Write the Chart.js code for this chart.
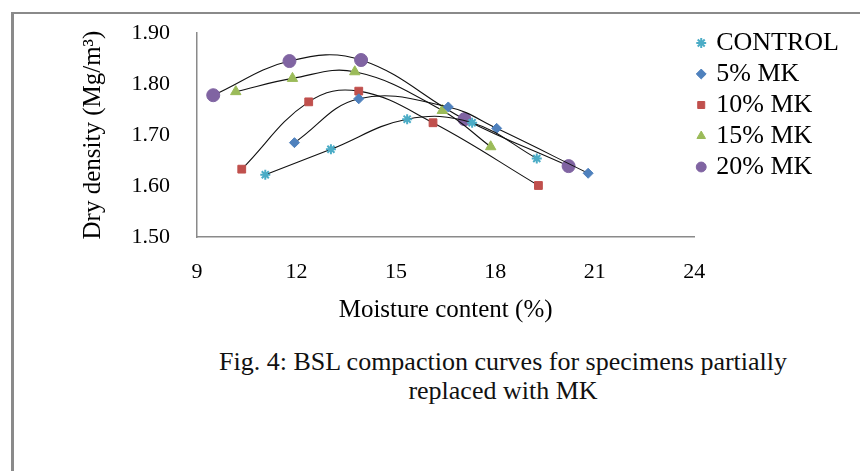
<!DOCTYPE html>
<html>
<head>
<meta charset="utf-8">
<script src="https://cdn.jsdelivr.net/npm/chart.js@4.4.1/dist/chart.umd.min.js"></script>
<style>
  html, body { margin: 0; padding: 0; background: #fff; }
  body { width: 860px; height: 471px; position: relative; overflow: hidden; font-family: "Liberation Serif", serif; }
  #frame { position: absolute; left: 11px; top: 12px; width: 900px; height: 500px; border-left: 3px solid #8a8a8a; border-top: 2px solid #8a8a8a; }
  #chart-box { position: absolute; left: 0; top: 0; width: 860px; height: 340px; }
  #caption { position: absolute; left: 200px; width: 606px; top: 347px; text-align: center; font-family: "Liberation Serif", serif; font-size: 26px; line-height: 29px; color: #111; }
</style>
</head>
<body>
<div id="frame"></div>
<div id="chart-box"><canvas id="grafico" width="860" height="340"></canvas></div>
<div id="caption">Fig. 4: BSL compaction curves for specimens partially<br>replaced with MK</div>
<script>
// valores
const seriesNames = ['CONTROL', '5% MK', '10% MK', '15% MK', '20% MK'];

const controlMoisture = [11.06, 13.04, 15.34, 17.30, 19.25];
const controlDensity  = [1.622, 1.672, 1.731, 1.724, 1.654];

const mk5Moisture = [11.94, 13.88, 16.58, 18.04, 20.80];
const mk5Density  = [1.685, 1.771, 1.755, 1.713, 1.625];

const mk10Moisture = [10.35, 12.37, 13.88, 16.12, 19.30];
const mk10Density  = [1.633, 1.765, 1.786, 1.724, 1.601];

const mk15Moisture = [10.17, 11.88, 13.76, 16.40, 17.86];
const mk15Density  = [1.785, 1.811, 1.824, 1.748, 1.677];

const mk20Moisture = [9.49, 11.79, 13.95, 17.07, 20.21];
const mk20Density  = [1.778, 1.845, 1.847, 1.731, 1.639];

const xTickValues = [9, 12, 15, 18, 21, 24];
const yTickLabels = ['1.50', '1.60', '1.70', '1.80', '1.90'];

const serif = 'Liberation Serif, Times New Roman, serif';

function toPoints(xs, ys) {
    return xs.map((x, i) => ({ x: x, y: ys[i] }));
}

// estilo comun para las curvas de tendencia
function serie(label, xs, ys, style, color, radius) {
    return {
        label: label,
        data: toPoints(xs, ys),
        showLine: true,
        tension: 0.4,
        borderColor: '#111',
        borderWidth: 1.1,
        pointStyle: style,
        pointRadius: radius,
        pointHoverRadius: radius,
        pointBackgroundColor: color,
        pointBorderColor: color,
        pointBorderWidth: style === 'star' ? 2 : 1
    };
}

// mueve la leyenda un poco hacia arriba
const legendNudge = {
    id: 'legendNudge',
    afterLayout(chart) {
        if (chart.legend) {
            chart.legend.top -= 8;
            chart.legend.bottom -= 8;
        }
    }
};

const ctx = document.getElementById('grafico').getContext('2d');
const chart = new Chart(ctx, {
    type: 'scatter',
    data: {
        datasets: [
            serie(seriesNames[0], controlMoisture, controlDensity, 'star', '#4bacc6', 5),
            serie(seriesNames[1], mk5Moisture, mk5Density, 'rectRot', '#4f81bd', 5),
            serie(seriesNames[2], mk10Moisture, mk10Density, 'rect', '#c0504d', 5.5),
            serie(seriesNames[3], mk15Moisture, mk15Density, 'triangle', '#9bbb59', 6),
            serie(seriesNames[4], mk20Moisture, mk20Density, 'circle', '#8064a2', 6.5)
        ]
    },
    options: {
        responsive: false,
        devicePixelRatio: 1,
        animation: false,
        layout: { padding: { left: 78, top: 33, right: 11, bottom: 15 } },
        plugins: {
            tooltip: { enabled: false },
            legend: {
                position: 'right',
                align: 'start',
                labels: {
                    usePointStyle: true,
                    boxWidth: 4,
                    boxHeight: 7,
                    padding: 5,
                    color: '#000',
                    font: { family: serif, size: 26 }
                }
            }
        },
        scales: {
            x: {
                type: 'linear',
                min: xTickValues[0],
                max: xTickValues[xTickValues.length - 1],
                afterBuildTicks: (scale) => { scale.ticks = xTickValues.map(v => ({ value: v })); },
                afterFit: (scale) => { scale.height = 88; },
                grid: { display: false, drawTicks: false },
                border: { display: true, color: '#8a8a8a', width: 1.5 },
                ticks: { color: '#000', padding: 22, autoSkip: false, maxRotation: 0, font: { family: serif, size: 22 } },
                title: { display: true, text: 'Moisture content (%)', color: '#000', padding: 0, font: { family: serif, size: 25 } }
            },
            y: {
                type: 'linear',
                min: parseFloat(yTickLabels[0]),
                max: parseFloat(yTickLabels[yTickLabels.length - 1]),
                afterBuildTicks: (scale) => { scale.ticks = yTickLabels.map(t => ({ value: parseFloat(t) })); },
                afterFit: (scale) => {
                    scale.width = 119;
                    // el padding de los ticks no debe empujar el area del grafico
                    scale.paddingTop = 12;
                    scale.paddingBottom = 12;
                },
                grid: { display: false, drawTicks: false },
                border: { display: true, color: '#8a8a8a', width: 1.5 },
                ticks: {
                    color: '#000',
                    padding: 27,
                    autoSkip: false,
                    font: { family: serif, size: 22 },
                    callback: (value) => Number(value).toFixed(2)
                },
                title: { display: true, text: 'Dry density (Mg/m³)', color: '#000', padding: 0, font: { family: serif, size: 25 } }
            }
        }
    },
    plugins: [legendNudge]
});
</script>
</body>
</html>
